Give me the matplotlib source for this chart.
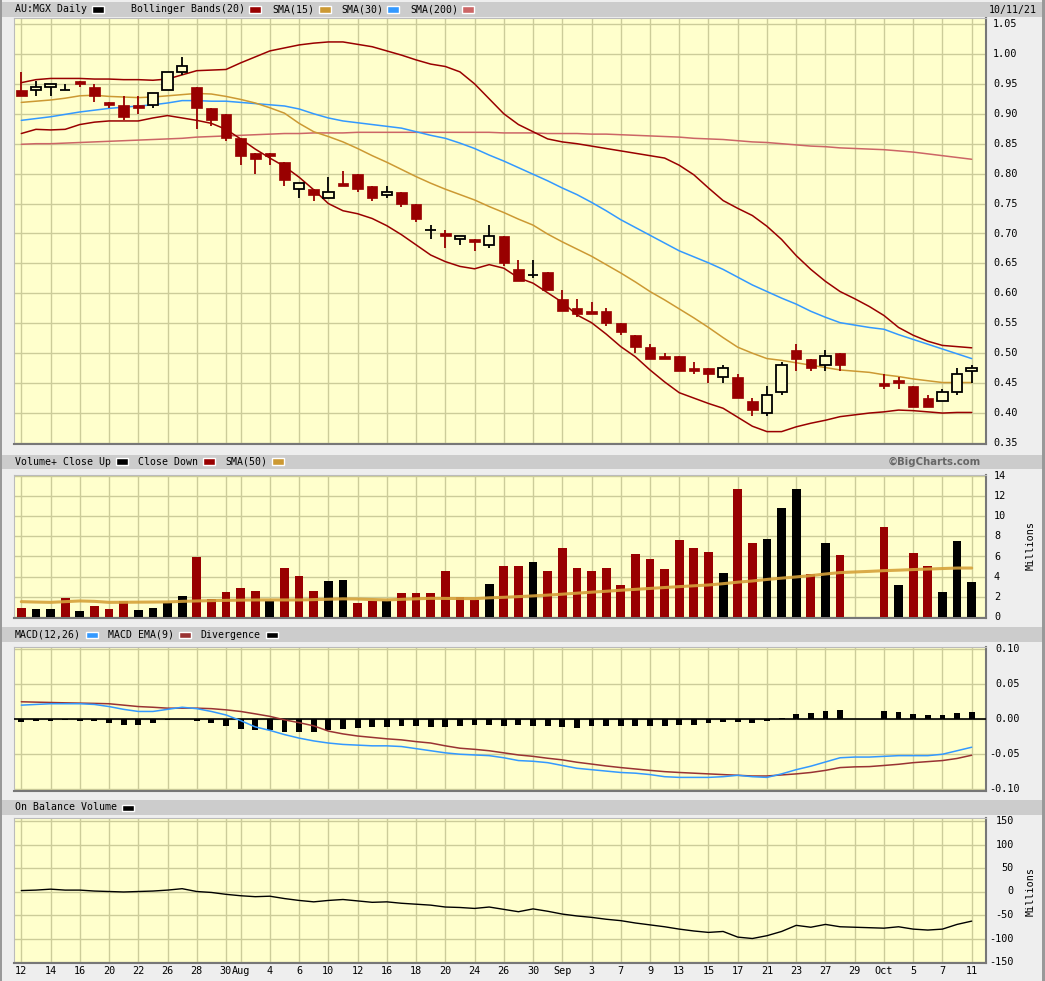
import matplotlib
matplotlib.use('Agg')
import matplotlib.pyplot as plt
from matplotlib.patches import Rectangle
import numpy as np

# ---------------- data ----------------
dates = ['07-12','07-13','07-14','07-15','07-16','07-19','07-20','07-21','07-22','07-23',
         '07-26','07-27','07-28','07-29','07-30','08-02','08-03','08-04','08-05','08-06',
         '08-09','08-10','08-11','08-12','08-13','08-16','08-17','08-18','08-19','08-20',
         '08-23','08-24','08-25','08-26','08-27','08-30','08-31','09-01','09-02','09-03',
         '09-06','09-07','09-08','09-09','09-10','09-13','09-14','09-15','09-16','09-17',
         '09-20','09-21','09-22','09-23','09-24','09-27','09-28','09-29','09-30','10-01',
         '10-04','10-05','10-06','10-07','10-08','10-11']

tick_dates = ['07-12','07-14','07-16','07-20','07-22','07-26','07-28','07-30','08-02','08-04',
              '08-06','08-10','08-12','08-16','08-18','08-20','08-24','08-26','08-30','09-01',
              '09-03','09-07','09-09','09-13','09-15','09-17','09-21','09-23','09-27','09-29',
              '10-01','10-05','10-07','10-11']
tick_labels = ['12','14','16','20','22','26','28','30','Aug','4','6','10','12','16','18','20',
               '24','26','30','Sep','3','7','9','13','15','17','21','23','27','29','Oct','5','7','11']

N = None
opens  = [0.940,0.940,0.945,0.940,0.955,0.945,0.920,0.915,0.915,0.915,0.940,0.970,0.945,0.910,0.900,
          0.860,0.835,0.835,0.820,0.775,0.775,0.760,0.785,0.800,0.780,0.765,0.770,0.750,0.705,0.700,
          0.690,0.690,0.680,0.695,0.640,0.630,0.635,0.590,0.575,0.570,0.570,0.550,0.530,0.510,0.495,
          0.495,0.475,0.475,0.460,0.460,0.420,0.400,0.435,0.505,0.490,0.480,0.500,N,N,0.450,
          0.455,0.445,0.425,0.420,0.435,0.470]
highs  = [0.970,0.955,0.950,0.950,0.955,0.950,0.920,0.930,0.930,0.935,0.970,0.995,0.945,0.910,0.900,
          0.860,0.835,0.835,0.820,0.785,0.775,0.795,0.805,0.800,0.780,0.780,0.770,0.750,0.715,0.705,
          0.695,0.690,0.715,0.695,0.655,0.655,0.635,0.605,0.590,0.585,0.575,0.550,0.530,0.515,0.500,
          0.495,0.485,0.475,0.480,0.465,0.425,0.445,0.485,0.515,0.490,0.505,0.500,N,N,0.465,
          0.460,0.445,0.430,0.440,0.475,0.480]
lows   = [0.930,0.930,0.930,0.940,0.945,0.920,0.910,0.890,0.900,0.910,0.940,0.965,0.875,0.880,0.855,
          0.815,0.800,0.815,0.780,0.760,0.755,0.760,0.780,0.770,0.755,0.760,0.745,0.720,0.690,0.675,
          0.680,0.670,0.675,0.645,0.620,0.625,0.605,0.570,0.560,0.565,0.545,0.530,0.500,0.490,0.490,
          0.470,0.465,0.450,0.450,0.425,0.395,0.395,0.430,0.470,0.470,0.470,0.470,N,N,0.440,
          0.440,0.410,0.410,0.420,0.430,0.450]
closes = [0.930,0.945,0.950,0.940,0.950,0.930,0.915,0.895,0.910,0.935,0.970,0.980,0.910,0.890,0.860,
          0.830,0.825,0.830,0.790,0.785,0.765,0.770,0.780,0.775,0.760,0.770,0.750,0.725,0.705,0.695,
          0.695,0.685,0.695,0.650,0.620,0.630,0.605,0.570,0.565,0.565,0.550,0.535,0.510,0.490,0.490,
          0.470,0.470,0.465,0.475,0.425,0.405,0.430,0.480,0.490,0.475,0.495,0.480,N,N,0.445,
          0.450,0.410,0.410,0.435,0.465,0.475]

bb_upper = [0.952,0.957,0.959,0.959,0.959,0.958,0.958,0.957,0.957,0.956,0.958,0.965,0.972,0.973,0.974,
            0.985,0.995,1.005,1.010,1.015,1.018,1.020,1.020,1.016,1.012,1.005,0.998,0.990,0.983,0.979,
            0.970,0.950,0.925,0.900,0.882,0.870,0.858,0.853,0.850,0.846,0.842,0.838,0.834,0.830,0.826,
            0.814,0.798,0.776,0.755,0.742,0.730,0.712,0.690,0.663,0.640,0.620,0.603,0.591,0.578,0.563,
            0.543,0.530,0.520,0.513,0.511,0.509]
bb_lower = [0.867,0.874,0.873,0.874,0.882,0.886,0.888,0.888,0.888,0.893,0.897,0.893,0.889,0.884,0.874,
            0.858,0.841,0.826,0.812,0.794,0.773,0.750,0.738,0.733,0.725,0.713,0.698,0.681,0.664,0.653,
            0.645,0.641,0.648,0.642,0.626,0.617,0.601,0.585,0.564,0.551,0.532,0.511,0.494,0.472,0.452,
            0.434,0.425,0.416,0.408,0.393,0.378,0.369,0.369,0.377,0.383,0.388,0.394,0.397,0.400,0.402,
            0.405,0.404,0.402,0.400,0.401,0.401]
sma15 = [0.919,0.921,0.923,0.926,0.930,0.931,0.929,0.928,0.927,0.928,0.930,0.932,0.934,0.933,0.929,
         0.924,0.918,0.910,0.901,0.884,0.870,0.862,0.853,0.842,0.830,0.819,0.807,0.795,0.784,0.774,
         0.765,0.756,0.745,0.735,0.724,0.714,0.699,0.686,0.674,0.662,0.648,0.634,0.619,0.603,0.589,
         0.574,0.559,0.543,0.526,0.510,0.500,0.491,0.488,0.484,0.480,0.476,0.472,0.470,0.468,0.464,
         0.461,0.457,0.454,0.451,0.451,0.451]
sma30 = [0.889,0.892,0.895,0.899,0.903,0.906,0.909,0.911,0.913,0.915,0.918,0.922,0.922,0.921,0.921,
         0.919,0.917,0.915,0.913,0.908,0.900,0.893,0.888,0.885,0.882,0.879,0.876,0.870,0.864,0.859,
         0.851,0.842,0.831,0.821,0.810,0.799,0.788,0.776,0.765,0.752,0.738,0.723,0.710,0.697,0.684,
         0.671,0.661,0.651,0.640,0.627,0.614,0.603,0.592,0.582,0.570,0.560,0.551,0.547,0.543,0.540,
         0.531,0.523,0.515,0.507,0.499,0.491]
sma200 = [0.849,0.850,0.850,0.851,0.852,0.853,0.854,0.855,0.856,0.857,0.858,0.859,0.861,0.862,0.863,
          0.864,0.865,0.866,0.867,0.867,0.868,0.868,0.868,0.869,0.869,0.869,0.869,0.869,0.869,0.869,
          0.869,0.869,0.869,0.868,0.868,0.868,0.867,0.867,0.867,0.866,0.866,0.865,0.864,0.863,0.862,
          0.861,0.859,0.858,0.857,0.855,0.853,0.852,0.850,0.848,0.846,0.845,0.843,0.842,0.841,0.840,
          0.838,0.836,0.833,0.830,0.827,0.824]

volume = [0.93,0.79,0.79,1.92,0.60,1.09,0.79,1.59,0.69,0.93,1.42,2.08,5.95,1.79,2.48,
          2.88,2.58,1.59,4.86,4.07,2.58,3.57,3.67,1.39,1.59,1.59,2.38,2.38,2.38,4.56,
          1.98,1.69,3.27,5.06,5.06,5.45,4.56,6.83,4.89,4.56,4.89,3.17,6.24,5.74,4.75,
          7.63,6.83,6.44,4.36,12.68,7.33,7.73,10.80,12.68,4.26,7.33,6.14,N,N,8.91,
          3.17,6.34,5.05,2.48,7.53,3.47]
vol_dir = ['D','U','U','D','U','D','D','D','U','U','U','U','D','D','D',
           'D','D','U','D','D','D','U','U','D','D','U','D','D','D','D',
           'D','D','U','D','D','U','D','D','D','D','D','D','D','D','D',
           'D','D','D','U','D','D','U','U','U','D','U','D',N,N,'D',
           'U','D','D','U','U','U']
vol_sma50 = [1.52,1.48,1.45,1.52,1.59,1.55,1.45,1.46,1.47,1.48,1.49,1.55,1.59,1.62,1.65,
             1.67,1.69,1.69,1.69,1.69,1.72,1.76,1.80,1.78,1.73,1.69,1.75,1.80,1.85,1.84,
             1.83,1.82,1.90,1.95,2.02,2.09,2.17,2.26,2.36,2.46,2.55,2.65,2.74,2.83,2.92,
             3.01,3.09,3.17,3.30,3.45,3.57,3.72,3.85,3.97,4.10,4.26,4.40,4.46,4.52,4.59,
             4.64,4.70,4.75,4.80,4.85,4.85]

macd = [0.020,0.021,0.022,0.022,0.022,0.021,0.018,0.014,0.011,0.011,0.014,0.017,0.015,0.011,0.006,
        -0.002,-0.011,-0.016,-0.022,-0.027,-0.031,-0.034,-0.036,-0.037,-0.038,-0.038,-0.039,-0.042,-0.045,-0.048,
        -0.050,-0.051,-0.052,-0.055,-0.059,-0.060,-0.062,-0.066,-0.070,-0.072,-0.074,-0.076,-0.077,-0.079,-0.082,
        -0.083,-0.083,-0.083,-0.082,-0.080,-0.082,-0.083,-0.078,-0.072,-0.067,-0.061,-0.055,-0.054,-0.054,-0.053,
        -0.052,-0.052,-0.052,-0.050,-0.045,-0.040]
macd_signal = [0.0248,0.0243,0.0238,0.0233,0.0229,0.0225,0.0220,0.0200,0.0180,0.0170,0.0157,0.0157,0.0157,0.0150,0.0133,
               0.0110,0.0076,0.0040,-0.0010,-0.0050,-0.0095,-0.0170,-0.0210,-0.0240,-0.0260,-0.0280,-0.0295,-0.0320,-0.0340,-0.0380,
               -0.0414,-0.0430,-0.0450,-0.0480,-0.0510,-0.0530,-0.0557,-0.0580,-0.0614,-0.0640,-0.0667,-0.0690,-0.0710,-0.0730,-0.0748,
               -0.0760,-0.0770,-0.0780,-0.0790,-0.0800,-0.0810,-0.0810,-0.0795,-0.0780,-0.0760,-0.0730,-0.0690,-0.0680,-0.0676,-0.0660,
               -0.0643,-0.0620,-0.0605,-0.0590,-0.0560,-0.0514]
divergence = [-0.0043,-0.0033,-0.0020,-0.0014,-0.0020,-0.0030,-0.0050,-0.0080,-0.0080,-0.0057,-0.0014,0.0000,-0.0033,-0.0057,-0.0095,
              -0.0143,-0.0160,-0.0150,-0.0176,-0.0180,-0.0186,-0.0160,-0.0133,-0.0129,-0.0114,-0.0105,-0.0095,-0.0095,-0.0105,-0.0105,
              -0.0095,-0.0080,-0.0080,-0.0095,-0.0080,-0.0095,-0.0095,-0.0110,-0.0124,-0.0095,-0.0095,-0.0095,-0.0095,-0.0095,-0.0095,
              -0.0086,-0.0080,-0.0057,-0.0038,-0.0038,-0.0048,-0.0020,0.0020,0.0076,0.0090,0.0120,0.0133,N,N,0.0110,
              0.0105,0.0076,0.0062,0.0057,0.0090,0.0105]

obv = [2,3,5,3,3,1,0,-1,0,1,3,6,0,-2,-6,
       -9,-11,-10,-15,-19,-22,-19,-17,-20,-23,-22,-25,-27,-29,-33,
       -34,-36,-33,-38,-43,-37,-42,-48,-52,-55,-59,-62,-67,-71,-75,
       -80,-84,-87,-85,-97,-100,-94,-85,-72,-76,-70,-75,N,N,-78,
       -75,-80,-82,-80,-70,-63]

price_ticks = [0.35,0.40,0.45,0.50,0.55,0.60,0.65,0.70,0.75,0.80,0.85,0.90,0.95,1.00,1.05]
vol_ticks = [0,2,4,6,8,10,12,14]
macd_ticks = [-0.10,-0.05,0.00,0.05,0.10]
obv_ticks = [-150,-100,-50,0,50,100,150]

# ---------------- style ----------------
W, H = 1045, 981
BG = '#ffffcc'
GRID = '#cccc99'
RED = '#990000'
GOLD = '#cc9933'
VGOLD = '#d6a23a'
BLUE = '#3399ff'
PINK = '#cc6666'
MSIG = '#993333'
HDR = '#cccccc'
FONT = 'DejaVu Sans Mono'

fig = plt.figure(figsize=(W / 100, H / 100), dpi=100)
fig.patch.set_facecolor('#eeeeee')

def px_axes(x0, y0, x1, y1):
    return fig.add_axes([x0 / W, 1 - y1 / H, (x1 - x0) / W, (y1 - y0) / H])

def fig_rect(x0, y0, x1, y1, color, z=0):
    fig.patches.append(Rectangle((x0 / W, 1 - y1 / H), (x1 - x0) / W, (y1 - y0) / H,
                                 transform=fig.transFigure, facecolor=color, edgecolor='none', zorder=z))

def fig_text(x, y, s, **kw):
    kw.setdefault('family', FONT)
    kw.setdefault('fontsize', 7.1)
    kw.setdefault('va', 'center')
    fig.text(x / W, 1 - y / H, s, **kw)

def swatch(x, y, color):
    fig.patches.append(Rectangle((x / W, 1 - (y + 3) / H), 12 / W, 6 / H,
                                 transform=fig.transFigure, facecolor=color,
                                 edgecolor='white', linewidth=1.0, zorder=3))

# frame of image
fig_rect(0, 0, 2, H, '#999999')
fig_rect(W - 3, 0, W, H, '#999999')

# header bars
for (y0, y1) in [(2, 17), (455, 469), (627, 642), (800, 815)]:
    fig_rect(2, y0, W - 3, y1, HDR)

idx = np.arange(len(dates))
pos = {d: i for i, d in enumerate(dates)}
tick_idx = [pos[d] for d in tick_dates]
XL = (-0.5, 65.98)

def style_panel(ax, ylim, yticks):
    ax.set_facecolor(BG)
    ax.set_xlim(*XL)
    ax.set_ylim(*ylim)
    for t in tick_idx:
        ax.axvline(t, color=GRID, lw=1.0, zorder=0)
    for v in yticks:
        ax.axhline(v, color=GRID, lw=1.0, zorder=0)
    ax.set_xticks([])
    ax.set_yticks([])
    for s in ['left', 'top']:
        ax.spines[s].set_color('#bbbbbb')
        ax.spines[s].set_linewidth(0.8)
    for s in ['right', 'bottom']:
        ax.spines[s].set_color('#777777')
        ax.spines[s].set_linewidth(1.5)

# ---------------- price panel ----------------
axp = px_axes(14, 18, 986, 444)
style_panel(axp, (0.3483, 1.060), price_ticks)

def line(ax, vals, color, lw=1.1, z=3, alpha=1.0):
    arr = np.array([np.nan if v is None else v for v in vals], dtype=float)
    m = ~np.isnan(arr)
    ax.plot(idx[m], arr[m], color=color, lw=lw, zorder=z, solid_capstyle='round', alpha=alpha)

line(axp, sma200, PINK, 1.1)
line(axp, sma30, BLUE, 1.1)
line(axp, sma15, GOLD, 1.1)
line(axp, bb_upper, RED, 1.1)
line(axp, bb_lower, RED, 1.1)

bw = 0.72
for i in idx:
    o, h, l, c = opens[i], highs[i], lows[i], closes[i]
    if o is None:
        continue
    if c < o:
        axp.vlines(i, l, h, color=RED, lw=1.3, zorder=5)
        axp.add_patch(Rectangle((i - bw / 2, c), bw, o - c, facecolor=RED, edgecolor=RED, lw=0.5, zorder=6))
    elif c > o:
        axp.vlines(i, l, h, color='black', lw=1.3, zorder=5)
        axp.add_patch(Rectangle((i - bw / 2, o), bw, c - o, facecolor=BG, edgecolor='black', lw=1.3, zorder=6))
    else:
        axp.vlines(i, l, h, color='black', lw=1.3, zorder=5)
        axp.hlines(o, i - bw / 2, i + bw / 2, color='black', lw=1.3, zorder=6)

for v in price_ticks:
    fig_text(993, 24 + (1.05 - v) / 0.05 * 29.93, '%.2f' % v, ha='left', fontsize=7.3)

# ---------------- volume panel ----------------
axv = px_axes(14, 475, 986, 618)
style_panel(axv, (-0.1, 14.07), vol_ticks)
for i in idx:
    v = volume[i]
    if v is None:
        continue
    col = 'black' if vol_dir[i] == 'U' else RED
    axv.bar(i, v, width=0.6, bottom=0, color=col, zorder=4, linewidth=0)
line(axv, vol_sma50, VGOLD, 2.2, z=5, alpha=0.9)
for v in vol_ticks:
    fig_text(994, 617 - v * 10.07, str(v), ha='left', fontsize=7.3)
fig_text(1031, 546, 'Millions', rotation=90, ha='center', fontsize=7.3)

# ---------------- MACD panel ----------------
axm = px_axes(14, 647, 986, 791)
style_panel(axm, (-0.1024, 0.1029), macd_ticks)
for i in idx:
    d = divergence[i]
    if d is None:
        continue
    axm.bar(i, d, width=0.4, bottom=0, color='black', zorder=4, linewidth=0)
axm.axhline(0, color='black', lw=1.2, zorder=4)
line(axm, macd_signal, MSIG, 1.1, z=5)
line(axm, macd, BLUE, 1.1, z=6)
for v in macd_ticks:
    fig_text(1020, 719.2 - v / 0.05 * 35.1, '%.2f' % v, ha='right', fontsize=7.3)

# ---------------- OBV panel ----------------
axo = px_axes(14, 818, 986, 963)
style_panel(axo, (-152.1, 156.4), obv_ticks)
line(axo, obv, 'black', 1.0, z=5)
for v in obv_ticks:
    fig_text(1014, 891.5 - v * 0.47, str(v), ha='right', fontsize=7.3)
fig_text(1031, 891, 'Millions', rotation=90, ha='center', fontsize=7.3)

# x labels
for t, lab in zip(tick_idx, tick_labels):
    x = 21.3 + 14.62 * t
    fig_text(x, 971, lab, ha='center', fontsize=7.3)

# ---------------- headers ----------------
fig_text(15, 9.5, 'AU:MGX Daily', ha='left')
swatch(92, 9.5, 'black')
fig_text(131, 9.5, 'Bollinger Bands(20)', ha='left')
swatch(249, 9.5, RED)
fig_text(272, 9.5, 'SMA(15)', ha='left')
swatch(319, 9.5, GOLD)
fig_text(341, 9.5, 'SMA(30)', ha='left')
swatch(387, 9.5, BLUE)
fig_text(410, 9.5, 'SMA(200)', ha='left')
swatch(462, 9.5, PINK)
fig_text(1037, 9.5, '10/11/21', ha='right')

fig_text(15, 461.5, 'Volume+ Close Up', ha='left')
swatch(116, 461.5, 'black')
fig_text(138, 461.5, 'Close Down', ha='left')
swatch(203, 461.5, RED)
fig_text(225, 461.5, 'SMA(50)', ha='left')
swatch(272, 461.5, GOLD)
fig_text(981, 461.5, '\u00a9BigCharts.com', ha='right', color='#666666', fontweight='bold',
         family='DejaVu Sans', fontsize=7.3)

fig_text(15, 634.5, 'MACD(12,26)', ha='left')
swatch(86, 634.5, BLUE)
fig_text(108, 634.5, 'MACD EMA(9)', ha='left')
swatch(179, 634.5, MSIG)
fig_text(200, 634.5, 'Divergence', ha='left')
swatch(266, 634.5, 'black')

fig_text(15, 807.5, 'On Balance Volume', ha='left')
swatch(122, 807.5, 'black')

fig.savefig('out.png', dpi=100, facecolor=fig.get_facecolor())
